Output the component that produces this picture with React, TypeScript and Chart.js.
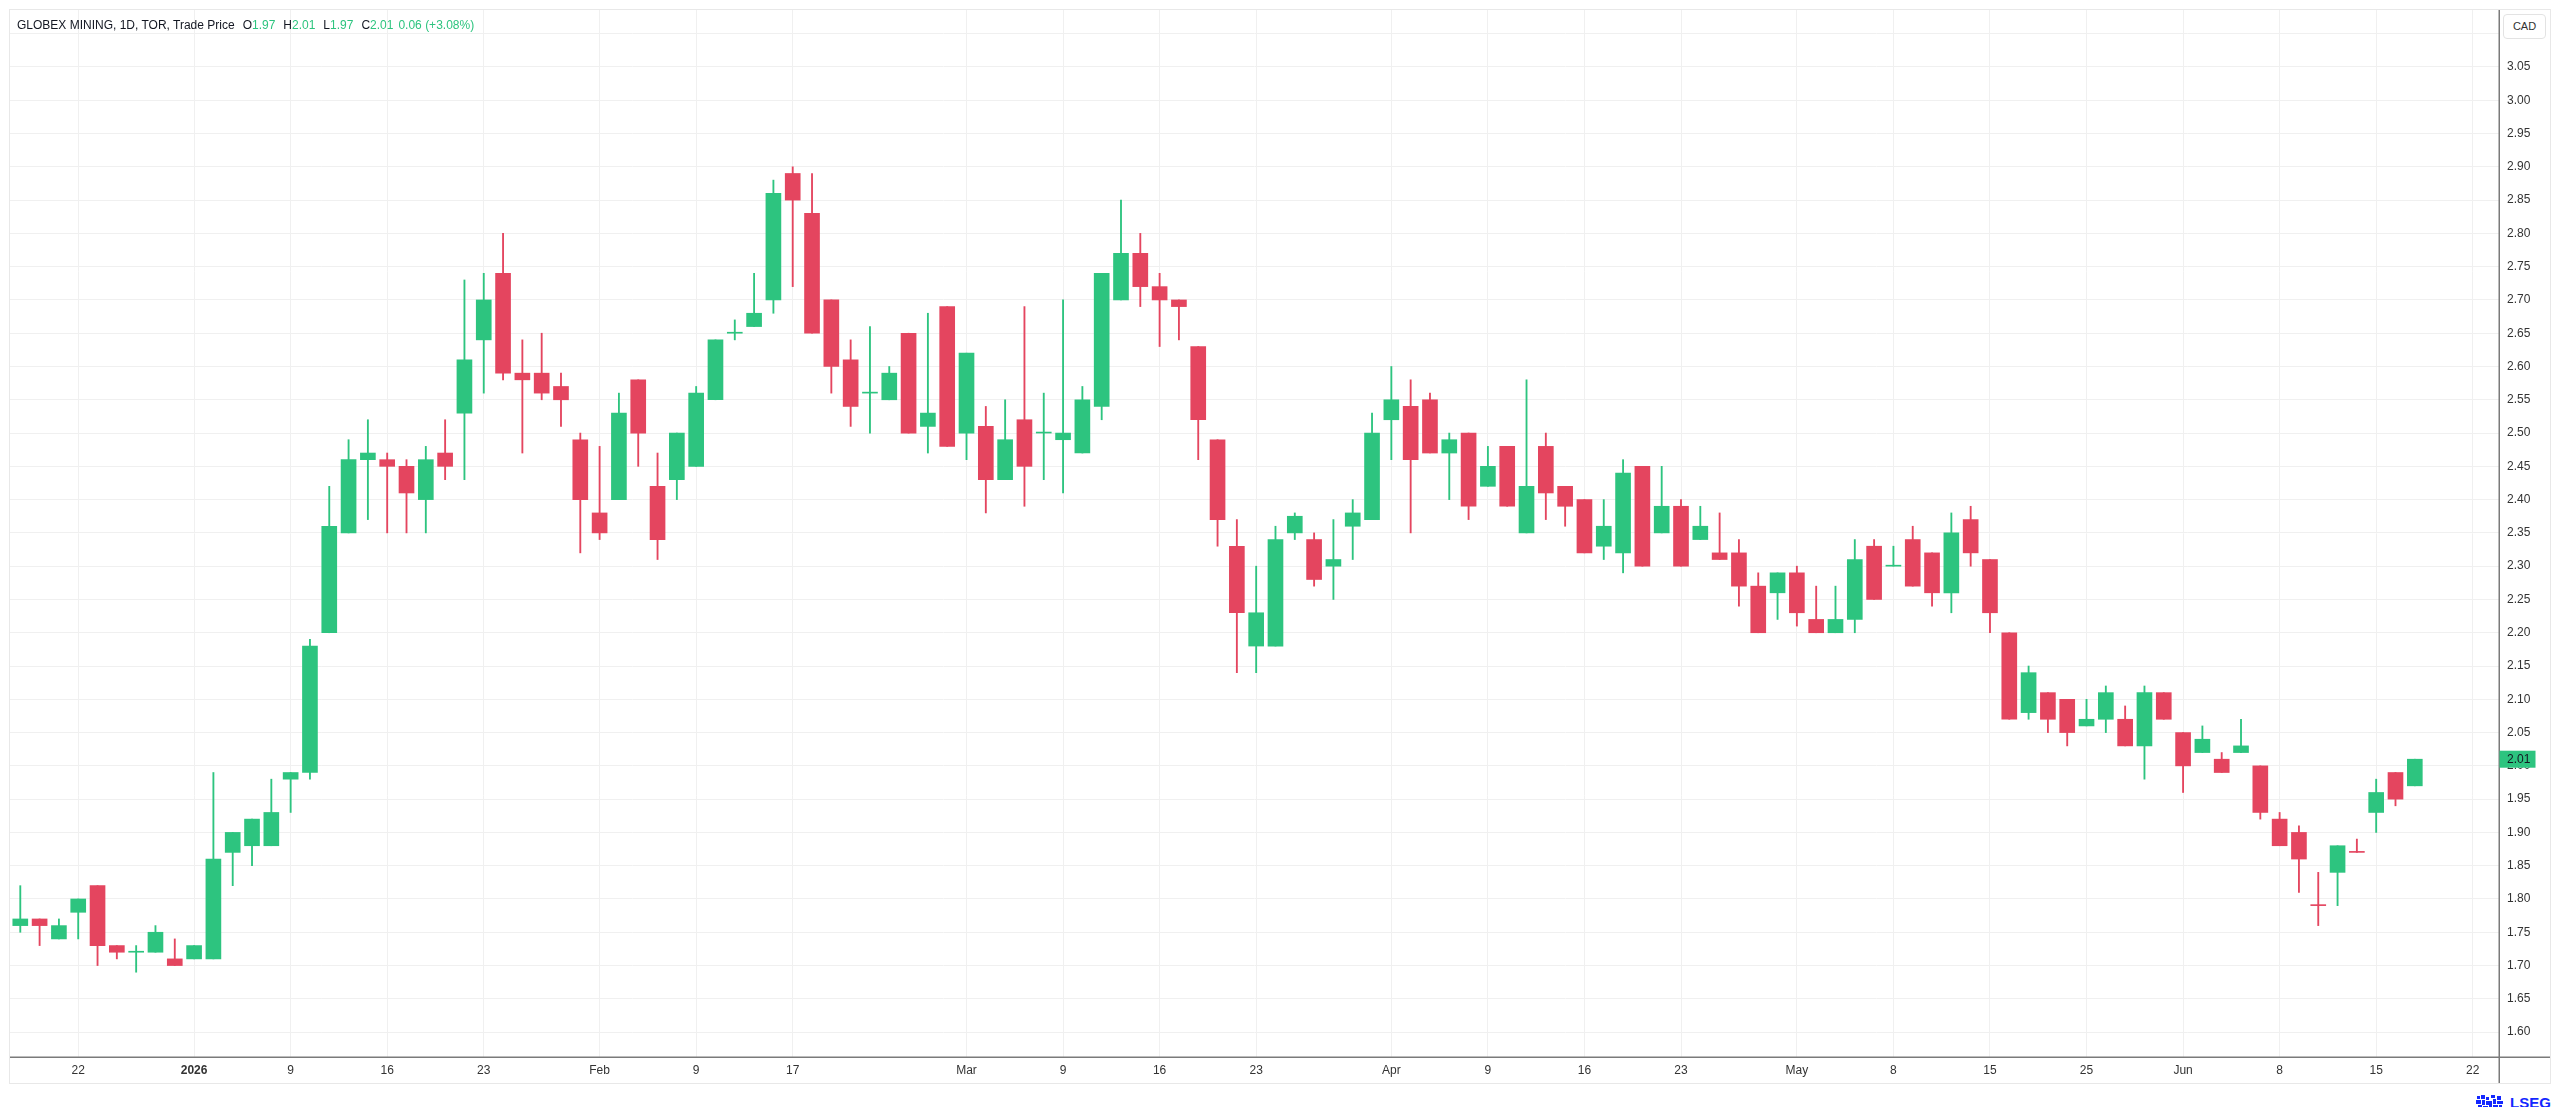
import React, { useEffect, useRef } from "react";
import { Chart, registerables } from "chart.js";

Chart.register(...registerables);

// ---- Data (daily candles, 17 Dec 2025 -> 17 Jun 2026, TSX trading days) ----
const opens = [
  1.76, 1.77, 1.74, 1.78, 1.82, 1.73, 1.72, 1.72, 1.71, 1.71,
  1.71, 1.87, 1.88, 1.88, 1.98, 1.99, 2.20, 2.35, 2.46, 2.46,
  2.45, 2.40, 2.47, 2.53, 2.64, 2.74, 2.59, 2.59, 2.57, 2.49,
  2.38, 2.40, 2.58, 2.42, 2.43, 2.45, 2.55, 2.65, 2.66, 2.70,
  2.89, 2.83, 2.70, 2.61, 2.56, 2.55, 2.65, 2.51, 2.69, 2.50,
  2.51, 2.43, 2.52, 2.50, 2.49, 2.47, 2.54, 2.70, 2.77, 2.72,
  2.70, 2.63, 2.49, 2.33, 2.18, 2.18, 2.35, 2.34, 2.30, 2.36,
  2.37, 2.52, 2.54, 2.55, 2.47, 2.50, 2.42, 2.48, 2.35, 2.48,
  2.42, 2.40, 2.33, 2.32, 2.45, 2.35, 2.39, 2.34, 2.32, 2.32,
  2.27, 2.26, 2.29, 2.22, 2.20, 2.22, 2.33, 2.30, 2.34, 2.32,
  2.26, 2.37, 2.31, 2.20, 2.08, 2.11, 2.10, 2.06, 2.07, 2.07,
  2.03, 2.11, 2.05, 2.02, 2.01, 2.02, 2.00, 1.92, 1.90, 1.79,
  1.84, 1.87, 1.93, 1.99, 1.97,
];
const highs = [
  1.82, 1.77, 1.77, 1.80, 1.82, 1.73, 1.73, 1.76, 1.74, 1.73,
  1.99, 1.90, 1.92, 1.98, 1.99, 2.19, 2.42, 2.49, 2.52, 2.47,
  2.46, 2.48, 2.52, 2.73, 2.74, 2.80, 2.64, 2.65, 2.59, 2.50,
  2.48, 2.56, 2.58, 2.47, 2.50, 2.57, 2.64, 2.67, 2.74, 2.88,
  2.90, 2.89, 2.70, 2.64, 2.66, 2.60, 2.65, 2.68, 2.69, 2.62,
  2.54, 2.55, 2.69, 2.56, 2.70, 2.57, 2.74, 2.85, 2.80, 2.74,
  2.70, 2.63, 2.49, 2.37, 2.30, 2.36, 2.38, 2.35, 2.37, 2.40,
  2.53, 2.60, 2.58, 2.56, 2.50, 2.50, 2.48, 2.48, 2.58, 2.50,
  2.42, 2.40, 2.40, 2.46, 2.45, 2.45, 2.40, 2.39, 2.38, 2.34,
  2.29, 2.29, 2.30, 2.27, 2.27, 2.34, 2.34, 2.33, 2.36, 2.32,
  2.38, 2.39, 2.31, 2.20, 2.15, 2.11, 2.10, 2.10, 2.12, 2.09,
  2.12, 2.11, 2.05, 2.06, 2.02, 2.07, 2.00, 1.93, 1.91, 1.84,
  1.88, 1.89, 1.98, 1.99, 2.01,
];
const lows = [
  1.75, 1.73, 1.74, 1.74, 1.70, 1.71, 1.69, 1.72, 1.70, 1.71,
  1.71, 1.82, 1.85, 1.88, 1.93, 1.98, 2.20, 2.35, 2.37, 2.35,
  2.35, 2.35, 2.43, 2.43, 2.56, 2.58, 2.47, 2.55, 2.51, 2.32,
  2.34, 2.40, 2.45, 2.31, 2.40, 2.45, 2.55, 2.64, 2.66, 2.68,
  2.72, 2.65, 2.56, 2.51, 2.50, 2.55, 2.50, 2.47, 2.48, 2.46,
  2.38, 2.43, 2.39, 2.43, 2.41, 2.47, 2.52, 2.70, 2.69, 2.63,
  2.64, 2.46, 2.33, 2.14, 2.14, 2.18, 2.34, 2.27, 2.25, 2.31,
  2.37, 2.46, 2.35, 2.47, 2.40, 2.37, 2.42, 2.39, 2.35, 2.37,
  2.36, 2.32, 2.31, 2.29, 2.30, 2.35, 2.30, 2.34, 2.31, 2.24,
  2.20, 2.22, 2.21, 2.20, 2.20, 2.20, 2.25, 2.30, 2.27, 2.24,
  2.23, 2.30, 2.20, 2.07, 2.07, 2.05, 2.03, 2.06, 2.05, 2.03,
  1.98, 2.07, 1.96, 2.02, 1.99, 2.02, 1.92, 1.88, 1.81, 1.76,
  1.79, 1.87, 1.90, 1.94, 1.97,
];
const closes = [
  1.77, 1.76, 1.76, 1.80, 1.73, 1.72, 1.72, 1.75, 1.70, 1.73,
  1.86, 1.90, 1.92, 1.93, 1.99, 2.18, 2.36, 2.46, 2.47, 2.45,
  2.41, 2.46, 2.45, 2.61, 2.70, 2.59, 2.58, 2.56, 2.55, 2.40,
  2.35, 2.53, 2.50, 2.34, 2.50, 2.56, 2.64, 2.65, 2.68, 2.86,
  2.85, 2.65, 2.60, 2.54, 2.56, 2.59, 2.50, 2.53, 2.48, 2.62,
  2.43, 2.49, 2.45, 2.50, 2.50, 2.55, 2.74, 2.77, 2.72, 2.70,
  2.69, 2.52, 2.37, 2.23, 2.23, 2.34, 2.375, 2.28, 2.31, 2.38,
  2.50, 2.55, 2.46, 2.47, 2.49, 2.39, 2.45, 2.39, 2.42, 2.41,
  2.39, 2.32, 2.36, 2.44, 2.30, 2.39, 2.30, 2.36, 2.31, 2.27,
  2.20, 2.29, 2.23, 2.20, 2.22, 2.31, 2.25, 2.30, 2.27, 2.26,
  2.35, 2.32, 2.23, 2.07, 2.14, 2.07, 2.05, 2.07, 2.11, 2.03,
  2.11, 2.07, 2.00, 2.04, 1.99, 2.03, 1.93, 1.88, 1.86, 1.79,
  1.88, 1.87, 1.96, 1.95, 2.01,
];

// x-axis tick positions (trading-day index) and their labels
const xTickPos = [3, 9, 14, 19, 24, 30, 35, 40, 49, 54, 59, 64, 71, 76, 81, 86, 92, 97, 102, 107, 112, 117, 122, 127];
const xTickLabels = ["22", "2026", "9", "16", "23", "Feb", "9", "17", "Mar", "9", "16", "23", "Apr", "9", "16", "23", "May", "8", "15", "25", "Jun", "8", "15", "22"];
const xBoldLabels = ["2026"];

// y-axis ticks (CAD)
const yTickValues = [
  1.6, 1.65, 1.7, 1.75, 1.8, 1.85, 1.9, 1.95, 2.0, 2.05, 2.1, 2.15, 2.2, 2.25, 2.3, 2.35,
  2.4, 2.45, 2.5, 2.55, 2.6, 2.65, 2.7, 2.75, 2.8, 2.85, 2.9, 2.95, 3.0, 3.05, 3.1,
];
const yHiddenLabels = [3.1];

const FONT = '"Liberation Sans", Arial, sans-serif';
const UP = "#2dc47f";
const DOWN = "#e4455f";
const TEXT = "#333333";
const GRID = "#f0f0f0";

function candleColor(i: number): string {
  const o = opens[i];
  const c = closes[i];
  if (c > o) return UP;
  if (c < o) return DOWN;
  if (i > 0 && c < closes[i - 1]) return DOWN;
  return UP;
}

const LAST = closes.length - 1;

const overlayPlugin = {
  id: "tvOverlay",
  afterDraw(chart: any) {
    const { ctx, chartArea, width, height } = chart;
    ctx.save();
    // axis lines
    ctx.strokeStyle = "#7a7a7a";
    ctx.lineWidth = 1.5;
    ctx.beginPath();
    ctx.moveTo(chartArea.right + 0.25, 0);
    ctx.lineTo(chartArea.right + 0.25, height);
    ctx.moveTo(0, chartArea.bottom + 0.25);
    ctx.lineTo(width, chartArea.bottom + 0.25);
    ctx.stroke();
    // last price label
    const y = chart.scales.y.getPixelForValue(closes[LAST]);
    ctx.fillStyle = candleColor(LAST);
    ctx.fillRect(chartArea.right + 0.5, y - 8.5, 36, 17);
    ctx.fillStyle = "#131722";
    ctx.font = `12px ${FONT}`;
    ctx.textAlign = "left";
    ctx.textBaseline = "middle";
    ctx.fillText(closes[LAST].toFixed(2), chartArea.right + 8, y + 0.5);
    ctx.restore();
  },
};

function CandleChart() {
  const ref = useRef<HTMLCanvasElement | null>(null);

  useEffect(() => {
    if (!ref.current) return;
    const colors = closes.map((_, i) => candleColor(i));
    const bodyData = opens.map((o, i) => ({ x: i, y: [o, closes[i]] }));
    const wickData = lows.map((l, i) => ({ x: i, y: [l, highs[i]] }));

    const chart = new Chart(ref.current, {
      type: "bar",
      data: {
        datasets: [
          {
            label: "body",
            data: bodyData as any,
            backgroundColor: colors,
            borderWidth: 0,
            barThickness: 15,
            minBarLength: 1,
            grouped: false,
            order: 1,
          } as any,
          {
            label: "wick",
            data: wickData as any,
            backgroundColor: colors,
            borderWidth: 0,
            barThickness: 1.2,
            grouped: false,
            order: 2,
          } as any,
        ],
      },
      options: {
        responsive: false,
        animation: false,
        events: [],
        layout: { padding: 0, autoPadding: false } as any,
        plugins: {
          legend: { display: false },
          tooltip: { enabled: false },
        },
        scales: {
          x: {
            type: "linear",
            min: -0.533,
            max: 128.36,
            offset: false,
            grid: { offset: false, color: GRID, lineWidth: 1, drawTicks: false },
            border: { display: false },
            ticks: {
              autoSkip: false,
              maxRotation: 0,
              minRotation: 0,
              padding: 6,
              color: TEXT,
              font: (ctx: any) => ({
                family: FONT,
                size: 12,
                weight: xBoldLabels.includes(xTickLabels[ctx.index]) ? "bold" : "normal",
              }),
              callback: (v: any) => {
                const k = xTickPos.indexOf(Math.round(Number(v)));
                return k >= 0 ? xTickLabels[k] : "";
              },
            },
            afterBuildTicks: (s: any) => {
              s.ticks = xTickPos.map((v) => ({ value: v }));
            },
            afterFit: (s: any) => {
              s.height = 26;
              s.paddingLeft = 0;
              s.paddingRight = 0;
            },
          } as any,
          y: {
            type: "linear",
            position: "right",
            min: 1.5626,
            max: 3.1356,
            beginAtZero: false,
            grid: { color: GRID, lineWidth: 1, drawTicks: false },
            border: { display: false },
            ticks: {
              padding: 8,
              color: TEXT,
              font: { family: FONT, size: 12 },
              callback: (v: any) => {
                const n = Number(v);
                if (yHiddenLabels.some((h) => Math.abs(h - n) < 1e-6)) return "";
                return n.toFixed(2);
              },
            },
            afterBuildTicks: (s: any) => {
              s.ticks = yTickValues.map((v) => ({ value: v }));
            },
            afterFit: (s: any) => {
              s.width = 51;
              s.paddingTop = 0;
              s.paddingBottom = 0;
            },
          } as any,
        },
      },
      plugins: [overlayPlugin],
    });
    return () => chart.destroy();
  }, []);

  return (
    <canvas
      ref={ref}
      width={2540}
      height={1073}
      style={{ position: "absolute", left: 2, top: 2, width: 2540, height: 1073 }}
    />
  );
}

export default function App() {
  const last = closes[LAST];
  const prev = closes[LAST - 1];
  const chg = last - prev;
  const pct = (chg / prev) * 100;
  const green = candleColor(LAST);
  const dark = "#131722";
  const item = (letter: string, val: number, ml: number) => (
    <span style={{ marginLeft: ml }}>
      <span style={{ color: dark }}>{letter}</span>
      <span style={{ color: green }}>{val.toFixed(2)}</span>
    </span>
  );
  return (
    <div style={{ position: "relative", width: 2544, height: 1099, fontFamily: FONT }}>
      <div
        style={{
          position: "absolute",
          left: 1,
          top: 1,
          width: 2542,
          height: 1075,
          border: "1px solid #e8e8e8",
          boxSizing: "border-box",
        }}
      />
      <CandleChart />
      <div
        style={{
          position: "absolute",
          left: 9,
          top: 10,
          fontSize: 12,
          lineHeight: "14px",
          whiteSpace: "nowrap",
          color: dark,
        }}
      >
        <span>GLOBEX MINING, 1D, TOR, Trade Price</span>
        {item("O", opens[LAST], 8)}
        {item("H", highs[LAST], 8)}
        {item("L", lows[LAST], 8)}
        {item("C", closes[LAST], 8)}
        <span style={{ marginLeft: 5, color: green }}>
          {`${chg >= 0 ? "" : "-"}${Math.abs(chg).toFixed(2)} (${pct >= 0 ? "+" : ""}${pct.toFixed(2)}%)`}
        </span>
      </div>
      <div
        style={{
          position: "absolute",
          left: 2495,
          top: 6,
          width: 43,
          height: 25,
          boxSizing: "border-box",
          border: "1px solid #e3e3e3",
          borderRadius: 4,
          background: "#ffffff",
          fontSize: 11,
          lineHeight: "23px",
          textAlign: "center",
          color: TEXT,
        }}
      >
        CAD
      </div>
      <div
        style={{
          position: "absolute",
          left: 2468,
          top: 1086,
          height: 18,
          display: "flex",
          alignItems: "center",
          whiteSpace: "nowrap",
        }}
      >
        <svg width="28" height="17" viewBox="0 0 28 17" style={{ display: "block" }}>
          <g fill="#1428ff">
            <rect x="1" y="1" width="3" height="3" />
            <rect x="5" y="0" width="4" height="4" />
            <rect x="10" y="2" width="3" height="3" />
            <rect x="15" y="0" width="4" height="3" />
            <rect x="21" y="1" width="4" height="4" />
            <rect x="0" y="5" width="5" height="4" />
            <rect x="6" y="5" width="3" height="5" />
            <rect x="10" y="6" width="6" height="4" />
            <rect x="17" y="4" width="3" height="5" />
            <rect x="21" y="6" width="6" height="3" />
            <rect x="2" y="10" width="4" height="3" />
            <rect x="7" y="11" width="5" height="4" />
            <rect x="13" y="10" width="3" height="5" />
            <rect x="17" y="10" width="5" height="3" />
            <rect x="23" y="10" width="3" height="4" />
            <rect x="9" y="15" width="3" height="2" />
            <rect x="16" y="14" width="4" height="3" />
          </g>
        </svg>
        <span
          style={{
            marginLeft: 6,
            fontSize: 15,
            fontWeight: "bold",
            color: "#1428ff",
            lineHeight: "18px",
          }}
        >
          LSEG
        </span>
      </div>
    </div>
  );
}
